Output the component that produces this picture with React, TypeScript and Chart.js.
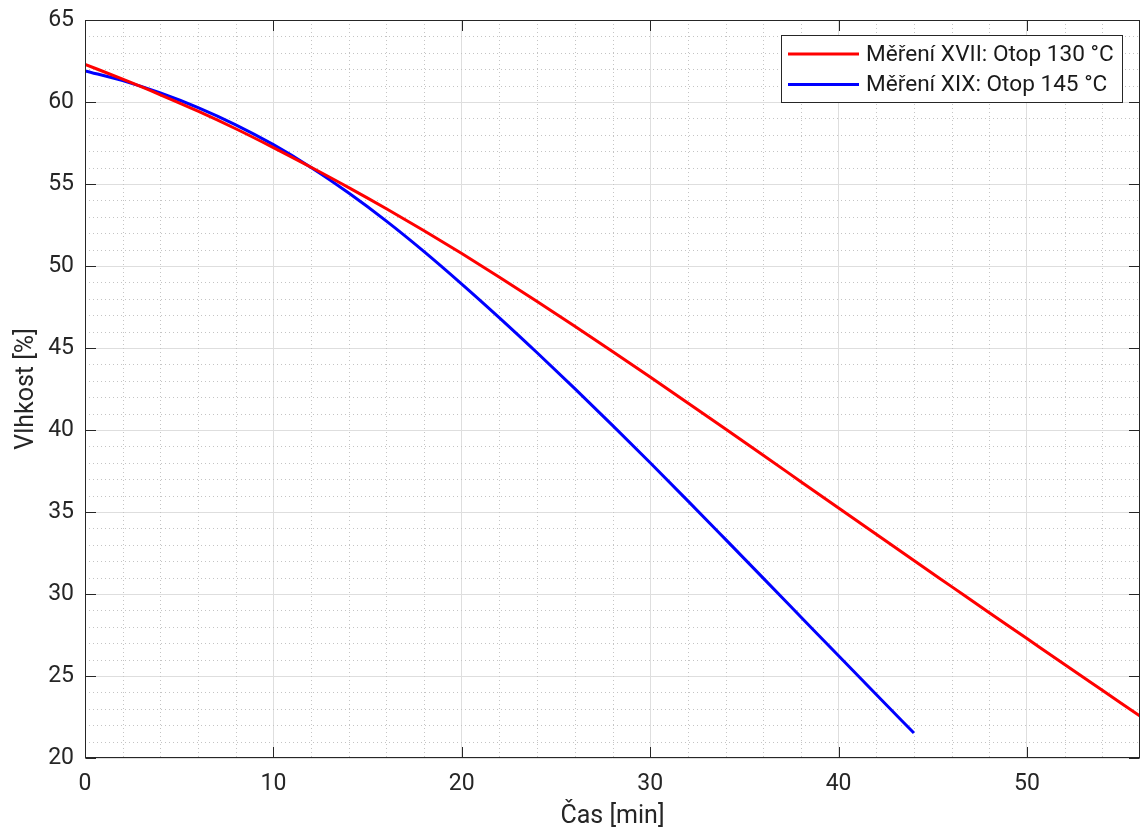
import React, { useEffect, useRef } from "react";
import { Chart, registerables } from "chart.js";

Chart.register(...registerables);

const timeRed = [0, 2, 4, 6, 8, 10, 12, 14, 16, 18, 20, 22, 24, 26, 28, 30, 32, 34, 36, 38, 40, 42, 44, 46, 48, 50, 52, 54, 56];
const moistureRed = [62.3, 61.39, 60.44, 59.44, 58.37, 57.22, 56.02, 54.78, 53.49, 52.15, 50.76, 49.32, 47.84, 46.33, 44.79, 43.23, 41.65, 40.06, 38.46, 36.85, 35.24, 33.64, 32.04, 30.45, 28.86, 27.28, 25.7, 24.13, 22.56];
const timeBlue = [0, 2, 4, 6, 8, 10, 12, 14, 16, 18, 20, 22, 24, 26, 28, 30, 32, 34, 36, 38, 40, 42, 44];
const moistureBlue = [61.9, 61.3, 60.55, 59.66, 58.61, 57.4, 56.01, 54.45, 52.74, 50.88, 48.9, 46.84, 44.71, 42.52, 40.28, 38.0, 35.68, 33.33, 30.97, 28.6, 26.23, 23.87, 21.52];

const labelRed = "Měření XVII: Otop 130 °C";
const labelBlue = "Měření XIX: Otop 145 °C";
const xTitle = "Čas [min]";
const yTitle = "Vlhkost [%]";

const xMajorTicks = [0, 10, 20, 30, 40, 50];
const yMajorTicks = [20, 25, 30, 35, 40, 45, 50, 55, 60, 65];
const xMinorTicks = [2, 4, 6, 8, 12, 14, 16, 18, 22, 24, 26, 28, 32, 34, 36, 38, 42, 44, 46, 48, 52, 54];
const yMinorTicks = [21, 22, 23, 24, 26, 27, 28, 29, 31, 32, 33, 34, 36, 37, 38, 39, 41, 42, 43, 44, 46, 47, 48, 49, 51, 52, 53, 54, 56, 57, 58, 59, 61, 62, 63, 64];
const xMin = 0, xMax = 56, yMin = 20, yMax = 65;

const FONT = "Roboto, 'Liberation Sans', Arial, sans-serif";
const AXIS_COLOR = "#262626";

const matlabPlugin = {
  id: "matlabDecor",
  beforeDatasetsDraw(chart: any) {
    const { ctx, chartArea: a, scales } = chart;
    const xs = scales.x, ys = scales.y;
    ctx.save();
    ctx.strokeStyle = "#c4c4c4";
    ctx.lineWidth = 1;
    ctx.setLineDash([1, 3]);
    xMinorTicks.forEach((v) => {
      const px = Math.round(xs.getPixelForValue(v)) + 0.5;
      ctx.beginPath();
      ctx.moveTo(px, a.top);
      ctx.lineTo(px, a.bottom);
      ctx.stroke();
    });
    yMinorTicks.forEach((v) => {
      const py = Math.round(ys.getPixelForValue(v)) + 0.5;
      ctx.beginPath();
      ctx.moveTo(a.left, py);
      ctx.lineTo(a.right, py);
      ctx.stroke();
    });
    ctx.restore();
  },
  afterDatasetsDraw(chart: any) {
    const { ctx, chartArea: a, scales } = chart;
    const xs = scales.x, ys = scales.y;
    ctx.save();
    ctx.strokeStyle = AXIS_COLOR;
    ctx.lineWidth = 1;
    ctx.setLineDash([]);
    const L = Math.round(a.left) + 0.5, R = Math.round(a.right) - 0.5;
    const T = Math.round(a.top) + 0.5, B = Math.round(a.bottom) - 0.5;
    ctx.strokeRect(L, T, R - L, B - T);
    const tl = 10.5;
    xMajorTicks.forEach((v) => {
      const px = Math.round(xs.getPixelForValue(v)) + 0.5;
      ctx.beginPath();
      ctx.moveTo(px, B);
      ctx.lineTo(px, B - tl);
      ctx.moveTo(px, T);
      ctx.lineTo(px, T + tl);
      ctx.stroke();
    });
    yMajorTicks.forEach((v) => {
      const py = Math.round(ys.getPixelForValue(v)) + 0.5;
      ctx.beginPath();
      ctx.moveTo(L, py);
      ctx.lineTo(L + tl, py);
      ctx.moveTo(R, py);
      ctx.lineTo(R - tl, py);
      ctx.stroke();
    });

    // legend
    ctx.font = `22.6px ${FONT}`;
    const dsets = chart.data.datasets;
    let maxW = 0;
    dsets.forEach((d: any) => {
      maxW = Math.max(maxW, ctx.measureText(d.label).width);
    });
    const boxW = Math.round(85 + maxW + 8);
    const boxRight = Math.round(a.right) - 18;
    const boxLeft = boxRight - boxW;
    const boxTop = Math.round(a.top) + 15;
    const boxH = 67;
    ctx.fillStyle = "#ffffff";
    ctx.fillRect(boxLeft + 0.5, boxTop + 0.5, boxW, boxH);
    ctx.strokeStyle = AXIS_COLOR;
    ctx.lineWidth = 1;
    ctx.strokeRect(boxLeft + 0.5, boxTop + 0.5, boxW, boxH);
    dsets.forEach((d: any, i: number) => {
      const cy = boxTop + 19 + i * 30.6;
      ctx.strokeStyle = d.borderColor;
      ctx.lineWidth = 3;
      ctx.beginPath();
      ctx.moveTo(boxLeft + 7, cy);
      ctx.lineTo(boxLeft + 78, cy);
      ctx.stroke();
      ctx.fillStyle = "#1a1a1a";
      ctx.textBaseline = "middle";
      ctx.textAlign = "left";
      ctx.fillText(d.label, boxLeft + 85, cy + 1);
    });
    ctx.restore();
  },
};

export default function App() {
  const ref = useRef<HTMLCanvasElement | null>(null);
  useEffect(() => {
    if (!ref.current) return;
    const chart = new Chart(ref.current, {
      type: "line",
      data: {
        datasets: [
          {
            label: labelRed,
            data: timeRed.map((t, i) => ({ x: t, y: moistureRed[i] })),
            borderColor: "#ff0000",
            backgroundColor: "#ff0000",
            borderWidth: 3,
            pointRadius: 0,
            cubicInterpolationMode: "monotone",
            fill: false,
          },
          {
            label: labelBlue,
            data: timeBlue.map((t, i) => ({ x: t, y: moistureBlue[i] })),
            borderColor: "#0000ff",
            backgroundColor: "#0000ff",
            borderWidth: 3,
            pointRadius: 0,
            cubicInterpolationMode: "monotone",
            fill: false,
          },
        ],
      },
      options: {
        animation: false,
        responsive: false,
        layout: { padding: { top: 20, right: 1, left: 0, bottom: 0 } },
        plugins: {
          legend: { display: false },
          tooltip: { enabled: false },
        },
        scales: {
          x: {
            type: "linear",
            min: xMin,
            max: xMax,
            afterBuildTicks: (s: any) => {
              s.ticks = xMajorTicks.map((v) => ({ value: v }));
            },
            afterFit: (s: any) => {
              s.height = 78;
              s.paddingLeft = 0;
              s.paddingRight = 0;
            },
            grid: { color: "#dedede", lineWidth: 1, drawTicks: false },
            border: { display: false },
            ticks: {
              padding: 12,
              color: AXIS_COLOR,
              font: { family: FONT, size: 23 },
              maxRotation: 0,
            },
            title: {
              display: true,
              text: xTitle,
              color: AXIS_COLOR,
              font: { family: FONT, size: 25 },
              padding: { top: 0, bottom: 4 },
            },
          },
          y: {
            type: "linear",
            min: yMin,
            max: yMax,
            afterBuildTicks: (s: any) => {
              s.ticks = yMajorTicks.map((v) => ({ value: v }));
            },
            afterFit: (s: any) => {
              s.width = 85;
              s.paddingTop = 0;
              s.paddingBottom = 0;
            },
            grid: { color: "#dedede", lineWidth: 1, drawTicks: false },
            border: { display: false },
            ticks: {
              padding: 11,
              color: AXIS_COLOR,
              font: { family: FONT, size: 23 },
            },
            title: {
              display: true,
              text: yTitle,
              color: AXIS_COLOR,
              font: { family: FONT, size: 25 },
              padding: { top: 12, bottom: 0 },
            },
          },
        },
      },
      plugins: [matlabPlugin],
    } as any);
    return () => chart.destroy();
  }, []);
  return (
    <div style={{ position: "fixed", left: 0, top: 0, width: 1141, height: 836, background: "#fff" }}>
      <canvas ref={ref} width={1141} height={836} style={{ display: "block" }} />
    </div>
  );
}
